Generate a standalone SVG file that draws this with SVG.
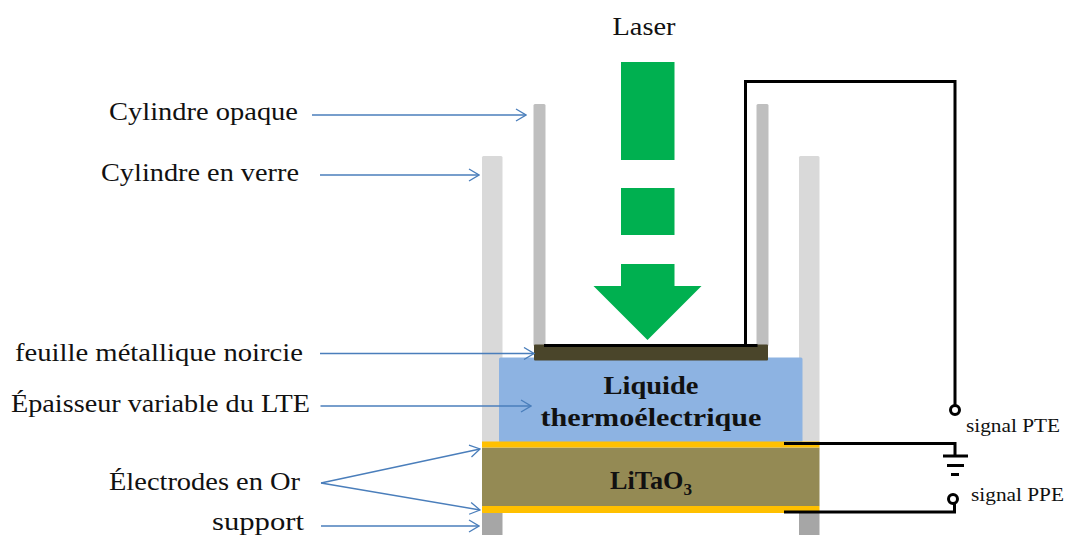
<svg xmlns="http://www.w3.org/2000/svg" width="1067" height="535" viewBox="0 0 1067 535">
<defs>
<marker id="a" markerUnits="userSpaceOnUse" markerWidth="12" markerHeight="14" refX="11" refY="7" orient="auto"><path d="M1,1 L11,7 L1,13" fill="none" stroke="#4a7ebb" stroke-width="1.3"/></marker>
</defs>
<style>
text{font-family:"Liberation Serif","DejaVu Serif",serif;fill:#111;}
.l{font-size:26px;}
.b{font-size:26px;font-weight:bold;text-anchor:middle;}
.s{font-size:19px;}
.ar{fill:none;stroke:#4a7ebb;stroke-width:1.4;marker-end:url(#a);}
.w{fill:none;stroke:#000;stroke-width:3;}
.g{fill:#00b050;}
</style>
<rect width="1067" height="535" fill="#fff"/>
<g id="cylindre-verre">
<rect x="482" y="156" width="20.5" height="290" rx="1.5" fill="#d9d9d9"/>
<rect x="799" y="156" width="20.5" height="290" rx="1.5" fill="#d9d9d9"/>
</g>
<g id="support">
<rect x="482" y="512" width="20.5" height="23" fill="#a6a6a6"/>
<rect x="799" y="512" width="20.5" height="23" fill="#a6a6a6"/>
</g>
<g id="cylindre-opaque">
<rect x="533.5" y="104" width="12" height="242" rx="1.5" fill="#bfbfbf"/>
<rect x="756.5" y="104" width="12" height="242" rx="1.5" fill="#bfbfbf"/>
</g>
<g id="laser">
<rect class="g" x="621" y="62" width="53.5" height="98"/>
<rect class="g" x="621" y="188" width="53.5" height="47"/>
<path class="g" d="M621,264 H674.5 V286 H701.500 L647.500,340 L593.500,286 H621 Z"/>
<text class="l" x="644" y="35" text-anchor="middle" textLength="63" lengthAdjust="spacingAndGlyphs">Laser</text>
</g>
<g id="lte">
<rect x="499" y="357.500" width="303.500" height="85" rx="1.500" fill="#8db3e2"/>
<text class="b" x="651" y="394" textLength="95" lengthAdjust="spacingAndGlyphs">Liquide</text>
<text class="b" x="651" y="426" textLength="221" lengthAdjust="spacingAndGlyphs">thermoélectrique</text>
</g>
<g id="feuille">
<rect x="534" y="344.500" width="234" height="16" rx="1" fill="#4a452a"/>
</g>
<g id="litao3">
<rect x="482" y="447.500" width="337.500" height="59" fill="#948a54"/>
<text class="b" x="651" y="489" textLength="82" lengthAdjust="spacingAndGlyphs">LiTaO<tspan font-size="17" dy="6">3</tspan></text>
</g>
<g id="electrodes">
<rect x="482" y="441.500" width="337.500" height="6" fill="#ffc000"/>
<rect x="482" y="506" width="337.500" height="7" rx="1" fill="#ffc000"/>
</g>
<g id="connectors">
<path class="ar" d="M312,115 H526"/>
<path class="ar" d="M320,175 H479"/>
<path class="ar" d="M320,353.500 H534"/>
<path class="ar" d="M320.500,406 H531"/>
<path class="ar" d="M321,483 L480,449"/>
<path class="ar" d="M321,483 L480,510"/>
<path class="ar" d="M321,526 H479"/>
<path class="w" d="M544,345.500 H757.500 M745.500,345.500 V81.500 H955 V405"/>
<path class="w" d="M784,443.500 H955 V456"/>
<path class="w" d="M943,456 H968 M947,465.500 H964 M951,474.500 H959"/>
<path class="w" d="M784,512 H954.500 V503"/>
<circle cx="955" cy="410" r="4.500" fill="#fff" stroke="#000" stroke-width="3"/>
<circle cx="953" cy="499" r="4.500" fill="#fff" stroke="#000" stroke-width="3"/>
</g>
<g id="labels">
<text class="l" x="109" y="120" textLength="189" lengthAdjust="spacingAndGlyphs">Cylindre opaque</text>
<text class="l" x="101" y="181" textLength="198" lengthAdjust="spacingAndGlyphs">Cylindre en verre</text>
<text class="l" x="15" y="361" textLength="288" lengthAdjust="spacingAndGlyphs">feuille métallique noircie</text>
<text class="l" x="11" y="412" textLength="299" lengthAdjust="spacingAndGlyphs">Épaisseur variable du LTE</text>
<text class="l" x="109" y="490" textLength="191" lengthAdjust="spacingAndGlyphs">Électrodes en Or</text>
<text class="l" x="212" y="529.500" textLength="92" lengthAdjust="spacingAndGlyphs">support</text>
<text class="s" x="966" y="432" textLength="94" lengthAdjust="spacingAndGlyphs">signal PTE</text>
<text class="s" x="971" y="501" textLength="93" lengthAdjust="spacingAndGlyphs">signal PPE</text>
</g>
</svg>
